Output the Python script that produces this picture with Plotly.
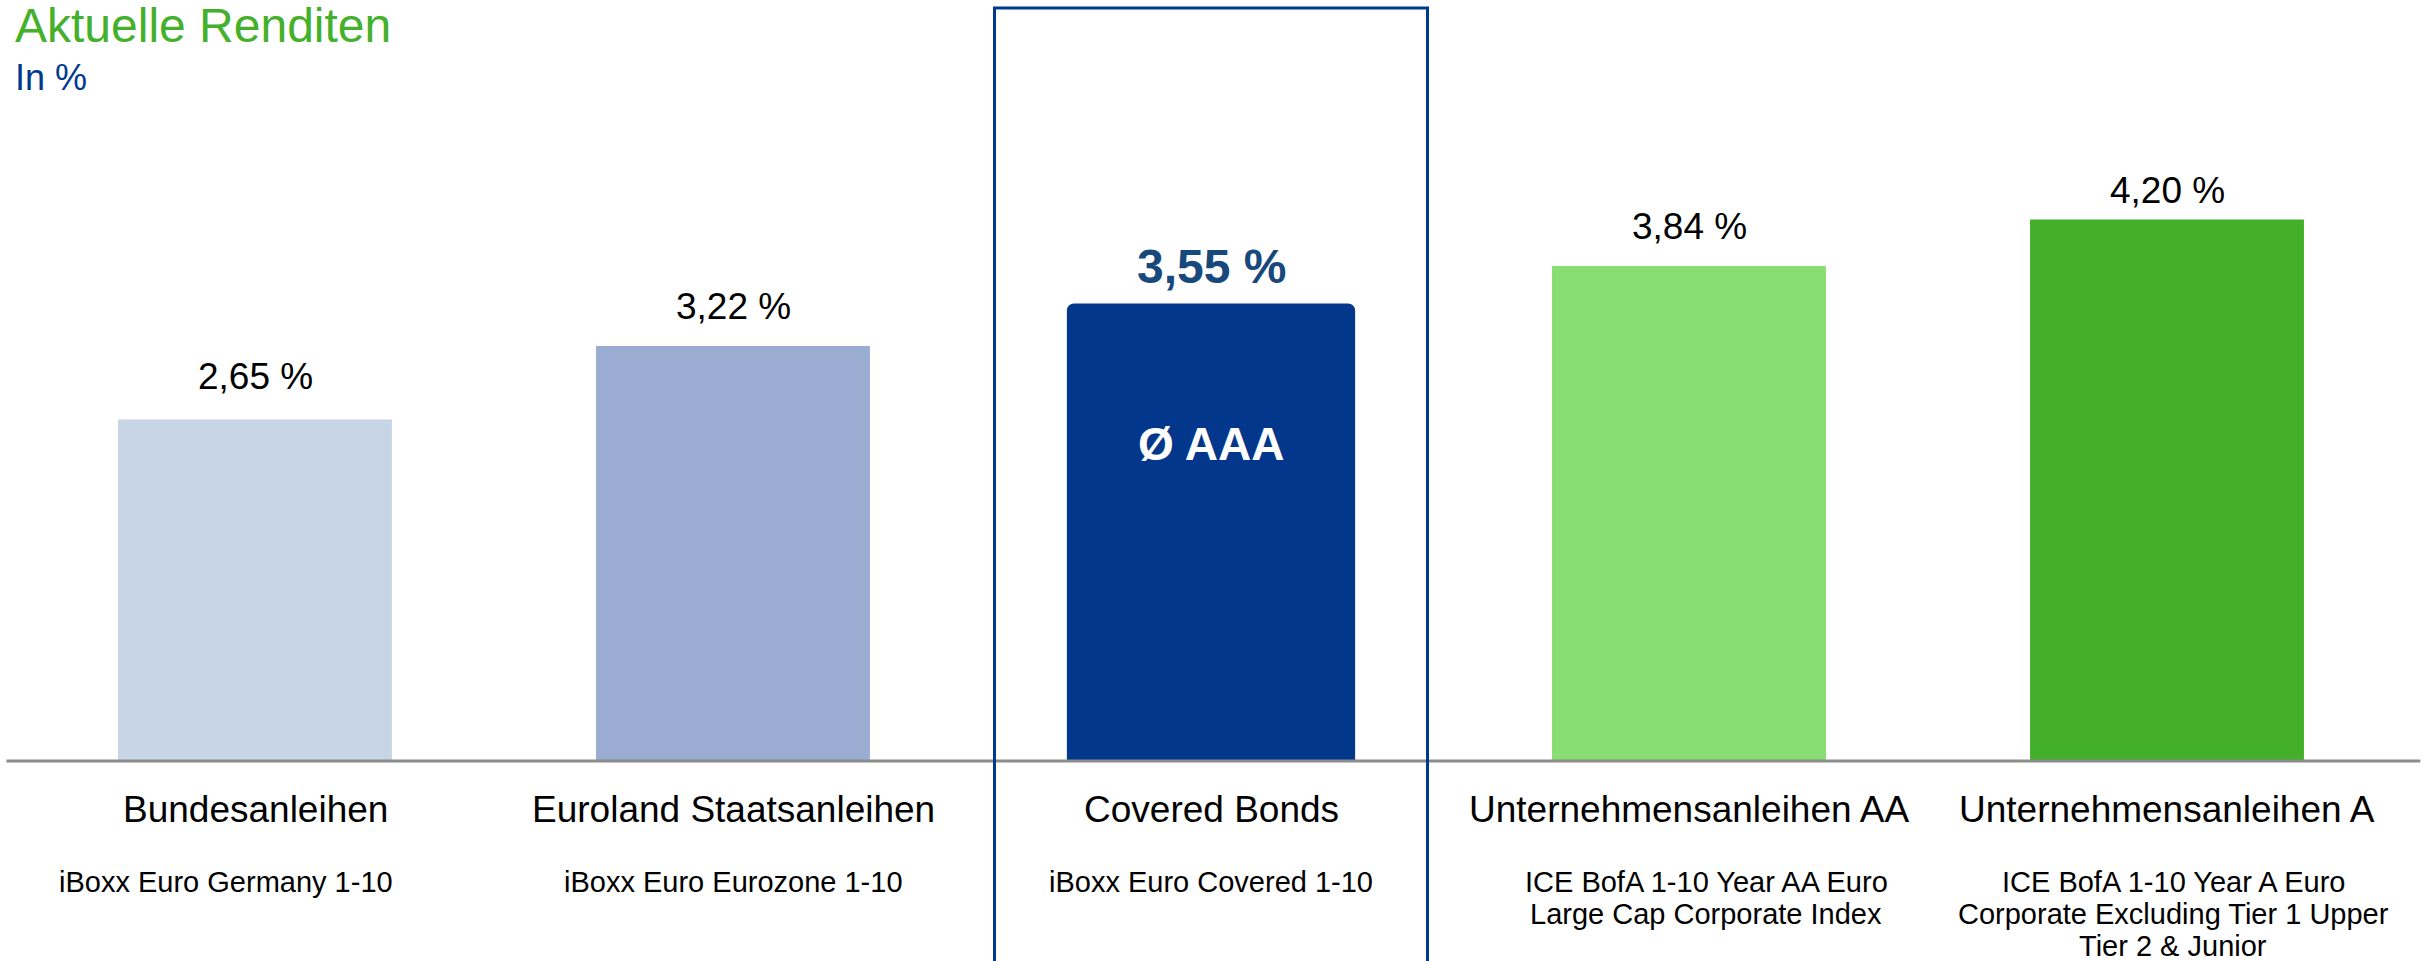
import plotly.graph_objects as go

# ---- data -------------------------------------------------------------
categories = [
    "Bundesanleihen",
    "Euroland Staatsanleihen",
    "Covered Bonds",
    "Unternehmensanleihen AA",
    "Unternehmensanleihen A",
]
yields_pct = [2.65, 3.22, 3.55, 3.84, 4.20]
index_names = [
    ["iBoxx Euro Germany 1-10"],
    ["iBoxx Euro Eurozone 1-10"],
    ["iBoxx Euro Covered 1-10"],
    ["ICE BofA 1-10 Year AA Euro", "Large Cap Corporate Index"],
    ["ICE BofA 1-10 Year A Euro", "Corporate Excluding Tier 1 Upper", "Tier 2 & Junior"],
]
rating_note = "Ø AAA"
title_text = "Aktuelle Renditen"
unit_text = "In %"
highlight = 2  # Covered Bonds

# ---- styling ----------------------------------------------------------
FONT = "Arial, 'Liberation Sans', sans-serif"
bar_colors = ["#C8D5E6", "#9AACD2", "#02378B", "#88DE72", "#43AF2A"]
GREEN = "#44B02C"
BLUE = "#003A8F"
LABEL_BLUE = "#17497C"

W, H = 2426, 961
ML, MR, MT, MB = 16, 20, 0, 200
plot_h = H - MT - MB
px_per_pct = 128.9
y_top = plot_h / px_per_pct

# pixel offsets of the value labels above each bar, and of the index lines
label_lift = [43, 39, 37, 40, 29]
sub_xshift = [-29, 0, 0, 17, 6]


def fmt(v):
    return f"{v:.2f}".replace(".", ",") + " %"


fig = go.Figure()

others = [i for i in range(len(categories)) if i != highlight]
fig.add_trace(go.Bar(
    x=[categories[i] for i in others],
    y=[yields_pct[i] for i in others],
    marker=dict(color=[bar_colors[i] for i in others], line=dict(width=0)),
    width=0.573,
    hoverinfo="skip",
))
fig.add_trace(go.Bar(
    x=[categories[highlight]],
    y=[yields_pct[highlight]],
    marker=dict(color=bar_colors[highlight], line=dict(width=0), cornerradius=7),
    width=0.603,
    hoverinfo="skip",
))

annotations = []
# value labels above the bars
for i, (cat, v) in enumerate(zip(categories, yields_pct)):
    if i == highlight:
        annotations.append(dict(
            x=cat, y=v, xref="x", yref="y", text=f"<b>{fmt(v)}</b>",
            showarrow=False, yanchor="middle", yshift=label_lift[i],
            font=dict(family=FONT, size=48, color=LABEL_BLUE),
        ))
        annotations.append(dict(
            x=cat, y=v, xref="x", yref="y", text=f"<b>{rating_note}</b>",
            showarrow=False, yanchor="middle", yshift=-141,
            font=dict(family=FONT, size=46, color="white"),
        ))
    else:
        annotations.append(dict(
            x=cat, y=v, xref="x", yref="y", text=fmt(v),
            showarrow=False, yanchor="middle", yshift=label_lift[i],
            font=dict(family=FONT, size=37, color="black"),
        ))

# category names and index descriptions below the baseline
for i, cat in enumerate(categories):
    annotations.append(dict(
        x=cat, y=0, xref="x", yref="paper", text=cat,
        showarrow=False, yanchor="middle", yshift=-48,
        font=dict(family=FONT, size=37, color="black"),
    ))
    for k, line in enumerate(index_names[i]):
        annotations.append(dict(
            x=cat, y=0, xref="x", yref="paper", text=line,
            showarrow=False, yanchor="middle", yshift=-121 - 32 * k,
            xshift=sub_xshift[i],
            font=dict(family=FONT, size=29, color="black"),
        ))

# heading
annotations.append(dict(
    x=0, y=1, xref="paper", yref="paper", text=title_text,
    showarrow=False, xanchor="left", yanchor="middle", yshift=-25, xshift=-3,
    font=dict(family=FONT, size=48, color=GREEN),
))
annotations.append(dict(
    x=0, y=1, xref="paper", yref="paper", text=unit_text,
    showarrow=False, xanchor="left", yanchor="middle", yshift=-77, xshift=-3,
    font=dict(family=FONT, size=36, color=BLUE),
))

n = len(categories)
half_box = 216.5 / (W - ML - MR)
box_center = (highlight + 0.5) / n

shapes = [
    # baseline
    dict(type="line", xref="paper", yref="paper", x0=-0.004, x1=1.006, y0=0, y1=0,
         line=dict(color="#8C8C8C", width=3), layer="above"),
    # frame around the highlighted category
    dict(type="rect", xref="paper", yref="paper",
         x0=box_center - half_box, x1=box_center + half_box,
         y0=-0.5, y1=1 - 8 / plot_h,
         line=dict(color=BLUE, width=3), fillcolor="rgba(0,0,0,0)", layer="above"),
]

fig.update_layout(
    width=W, height=H,
    margin=dict(l=ML, r=MR, t=MT, b=MB, pad=0),
    paper_bgcolor="white", plot_bgcolor="white",
    barmode="overlay",
    showlegend=False,
    annotations=annotations,
    shapes=shapes,
    xaxis=dict(
        type="category", categoryorder="array", categoryarray=categories,
        range=[-0.5, n - 0.5], showticklabels=False, showgrid=False,
        zeroline=False, showline=False, ticks="", fixedrange=True,
    ),
    yaxis=dict(range=[0, y_top], visible=False, fixedrange=True),
)

fig.write_html("out.html", config={"displayModeBar": False})
